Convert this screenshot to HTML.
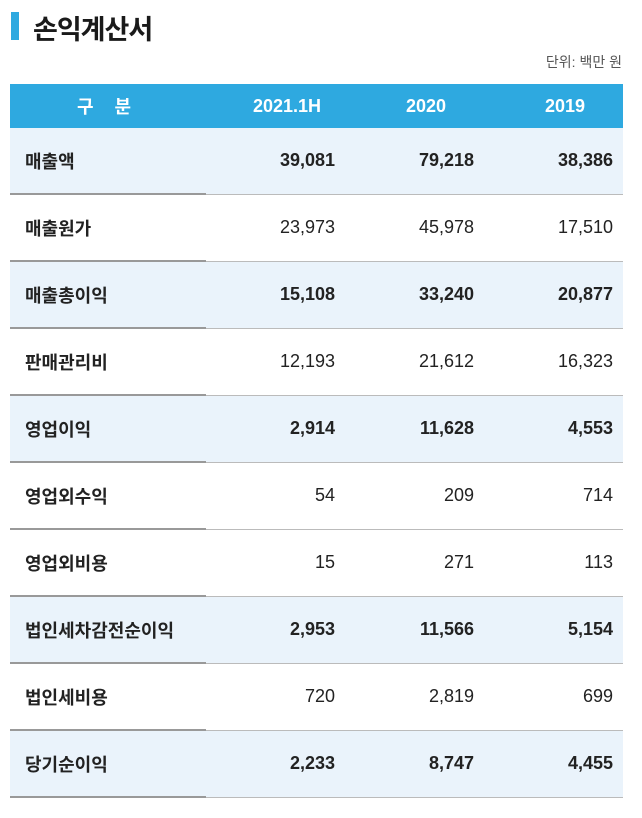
<!DOCTYPE html>
<html><head><meta charset="utf-8"><style>
body{margin:0;background:#fff;font-family:"Liberation Sans","Noto Sans CJK KR",sans-serif;color:#222;width:642px;height:818px;position:relative;overflow:hidden}
.bar{position:absolute;left:11px;top:12px;width:8px;height:28px;background:#2ea9e0}
.title{position:absolute;left:33px;top:8px;font-size:27px;font-weight:bold;color:#1a1a1a;letter-spacing:-1px}
.unit{position:absolute;right:20px;top:52px;font-size:14px;color:#555}
table{position:absolute;left:10px;top:84px;width:613px;border-collapse:collapse}
th{background:#2ea9e0;color:#fff;height:44px;font-size:18px;font-weight:bold;padding:0}
td{height:65px;font-size:18px;padding:0;border-bottom:1px solid #bbb}
td.l{padding-left:15px;font-weight:bold;border-bottom:2px solid #999;width:181px}
td.v{text-align:right;padding-right:10px}
tr.b td{background:#eaf3fb;font-weight:bold}
</style></head><body>
<div class="bar"></div>
<div class="title">손익계산서</div>
<div class="unit">단위: 백만 원</div>
<table>
<colgroup><col style="width:196px"><col style="width:139px"><col style="width:139px"><col style="width:139px"></colgroup>
<tr><th style="letter-spacing:8px">구 분</th><th style="text-align:right;padding-right:24px">2021.1H</th><th style="text-align:right;padding-right:38px">2020</th><th style="text-align:right;padding-right:38px">2019</th></tr>
<tr class="b"><td class="l">매출액</td><td class="v">39,081</td><td class="v">79,218</td><td class="v">38,386</td></tr>
<tr><td class="l">매출원가</td><td class="v">23,973</td><td class="v">45,978</td><td class="v">17,510</td></tr>
<tr class="b"><td class="l">매출총이익</td><td class="v">15,108</td><td class="v">33,240</td><td class="v">20,877</td></tr>
<tr><td class="l">판매관리비</td><td class="v">12,193</td><td class="v">21,612</td><td class="v">16,323</td></tr>
<tr class="b"><td class="l">영업이익</td><td class="v">2,914</td><td class="v">11,628</td><td class="v">4,553</td></tr>
<tr><td class="l">영업외수익</td><td class="v">54</td><td class="v">209</td><td class="v">714</td></tr>
<tr><td class="l">영업외비용</td><td class="v">15</td><td class="v">271</td><td class="v">113</td></tr>
<tr class="b"><td class="l">법인세차감전순이익</td><td class="v">2,953</td><td class="v">11,566</td><td class="v">5,154</td></tr>
<tr><td class="l">법인세비용</td><td class="v">720</td><td class="v">2,819</td><td class="v">699</td></tr>
<tr class="b"><td class="l">당기순이익</td><td class="v">2,233</td><td class="v">8,747</td><td class="v">4,455</td></tr>
</table>
</body></html>
